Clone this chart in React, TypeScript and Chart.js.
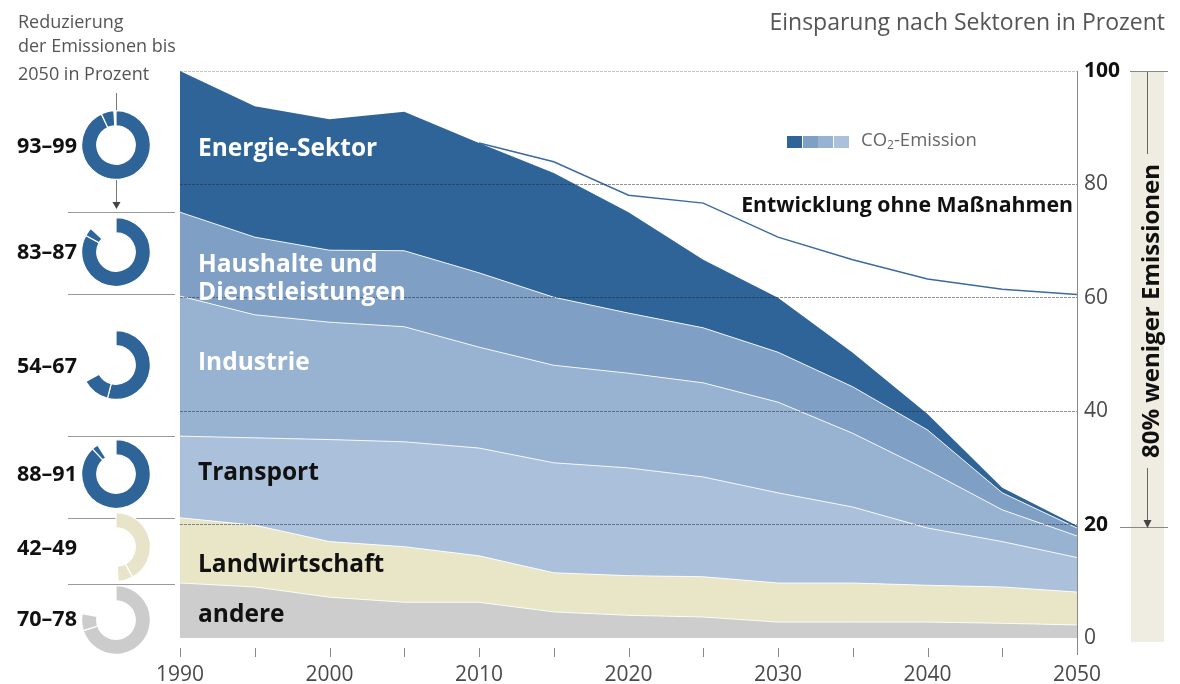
import React, { useEffect, useRef } from 'react';
import { Chart, registerables } from 'chart.js';

Chart.register(...registerables);

// ---------- data ----------
const years = ['1990', '1995', '2000', '2005', '2010', '2015', '2020', '2025', '2030', '2035', '2040', '2045', '2050'];
const andere = [9.7, 9.0, 7.2, 6.3, 6.3, 4.6, 4.0, 3.7, 2.8, 2.8, 2.8, 2.6, 2.3];
const landwirtschaft = [11.5, 10.9, 9.8, 9.8, 8.2, 6.9, 7.0, 7.1, 6.9, 6.9, 6.5, 6.4, 5.8];
const transport = [14.4, 15.4, 18.0, 18.5, 19.0, 19.4, 19.0, 17.6, 15.9, 13.4, 10.1, 8.0, 6.1];
const industrie = [24.7, 21.7, 20.7, 20.3, 17.8, 17.2, 16.7, 16.6, 16.0, 13.0, 10.2, 5.6, 3.8];
const haushalte = [14.8, 13.7, 12.7, 13.4, 13.1, 12.0, 10.6, 9.7, 8.8, 8.2, 7.1, 3.0, 1.4];
const energie = [24.9, 23.1, 23.1, 24.5, 22.9, 21.9, 17.8, 12.0, 9.6, 6.0, 2.8, 0.9, 0.4];
const ohneMassnahmen = [null, null, null, null, 87.3, 84.0, 78.1, 76.7, 70.7, 66.7, 63.3, 61.5, 60.6];
const yTickValues = [0, 20, 40, 60, 80, 100];
const boldTicks = [20, 100];

const sectorLabels = ['Energie-Sektor', 'Haushalte und', 'Dienstleistungen', 'Industrie', 'Transport', 'Landwirtschaft', 'andere'];
const reductionLabels = ['93–99', '83–87', '54–67', '88–91', '42–49', '70–78'];
const reductionMin = [93, 83, 54, 88, 42, 70];
const reductionMax = [99, 87, 67, 91, 49, 78];

// ---------- styles ----------
const FONT = "'Open Sans', 'Noto Sans', sans-serif";
const C_ENERGIE = '#2f6499';
const C_HAUS = '#7f9fc4';
const C_IND = '#98b3d1';
const C_TRANS = '#abc1db';
const C_LAND = '#e9e5c7';
const C_ANDERE = '#cdcdcd';
const SEP = 'rgba(255,255,255,0.85)';

const ringColors = [C_ENERGIE, C_ENERGIE, C_ENERGIE, C_ENERGIE, '#e8e4ca', '#cccccc'];
const ringCenters = [145, 252, 365, 474, 547, 620];
const ringLabelY = [144.5, 251, 364.5, 472.5, 547, 617.5];
const sectorLabelY = [146.5, 263, 290.5, 360.5, 470.5, 563, 613];
const sectorLabelColor = ['#fff', '#fff', '#fff', '#fff', '#111', '#111', '#111'];
const separatorY = [212.5, 294.5, 436.5, 518.5, 584.5];

const tickPlugin = {
  id: 'extraTicks',
  afterDraw(chart: any) {
    const { ctx, chartArea } = chart;
    const xs = chart.scales.x;
    ctx.save();
    ctx.strokeStyle = '#888';
    ctx.lineWidth = 1;
    ctx.beginPath();
    ctx.moveTo(Math.round(chartArea.right) + 0.5, chartArea.top);
    ctx.lineTo(Math.round(chartArea.right) + 0.5, chartArea.bottom + 17);
    for (let i = 0; i < xs.ticks.length - 1; i++) {
      const px = Math.round(xs.getPixelForTick(i)) + 0.5;
      ctx.moveTo(px, chartArea.bottom + 10);
      ctx.lineTo(px, chartArea.bottom + 19);
    }
    ctx.stroke();
    ctx.restore();
  },
};

function MainChart() {
  const ref = useRef<HTMLCanvasElement>(null);
  useEffect(() => {
    const chart = new Chart(ref.current as HTMLCanvasElement, {
      type: 'line',
      data: {
        labels: years,
        datasets: [
          { label: 'andere', data: andere, backgroundColor: C_ANDERE, borderColor: SEP, borderWidth: 1, fill: 'origin', pointRadius: 0, tension: 0 },
          { label: 'Landwirtschaft', data: landwirtschaft, backgroundColor: C_LAND, borderColor: SEP, borderWidth: 1, fill: '-1', pointRadius: 0, tension: 0 },
          { label: 'Transport', data: transport, backgroundColor: C_TRANS, borderColor: SEP, borderWidth: 1, fill: '-1', pointRadius: 0, tension: 0 },
          { label: 'Industrie', data: industrie, backgroundColor: C_IND, borderColor: SEP, borderWidth: 1, fill: '-1', pointRadius: 0, tension: 0 },
          { label: 'Haushalte und Dienstleistungen', data: haushalte, backgroundColor: C_HAUS, borderColor: SEP, borderWidth: 1, fill: '-1', pointRadius: 0, tension: 0 },
          { label: 'Energie-Sektor', data: energie, backgroundColor: C_ENERGIE, borderColor: C_ENERGIE, borderWidth: 0, fill: '-1', pointRadius: 0, tension: 0 },
          { label: 'Entwicklung ohne Maßnahmen', data: ohneMassnahmen, stack: 'ohne', borderColor: '#3c6aa0', borderWidth: 1.5, fill: false, pointRadius: 0, tension: 0 } as any,
        ],
      },
      options: {
        responsive: false,
        animation: false,
        events: [],
        layout: { padding: { left: 180, top: 71, right: 0, bottom: 0 } },
        plugins: { legend: { display: false }, tooltip: { enabled: false } },
        scales: {
          x: {
            type: 'category',
            offset: false,
            grid: { display: false },
            border: { display: false },
            afterFit: (s: any) => { s.height = 46; },
            ticks: {
              autoSkip: false,
              maxRotation: 0,
              padding: 16,
              color: '#4a4a4a',
              font: { family: FONT, size: 21 },
              callback: (_v: any, i: number) => (Number(years[i]) % 10 === 0 ? years[i] : ''),
            },
          },
          y: {
            position: 'right',
            stacked: true,
            min: 0,
            max: 100,
            afterFit: (s: any) => { s.width = 103; },
            afterBuildTicks: (s: any) => { s.ticks = yTickValues.map((v) => ({ value: v })); },
            grid: {
              z: 1,
              drawTicks: false,
              color: (c: any) => {
                if (!c.tick || c.tick.value === 0) return 'rgba(0,0,0,0)';
                if (c.tick.value === 100) return 'rgba(90,90,90,0.35)';
                return 'rgba(35,40,55,0.5)';
              },
              lineWidth: 1,
            },
            border: { display: false, dash: [3, 1] },
            ticks: {
              padding: 7,
              color: (c: any) => (c.tick && boldTicks.includes(c.tick.value) ? '#111' : '#4a4a4a'),
              font: (c: any) => ({
                family: FONT,
                size: 21,
                weight: c.tick && boldTicks.includes(c.tick.value) ? 'bold' : 'normal',
              }),
            },
          },
        },
      } as any,
      plugins: [tickPlugin],
    });
    return () => chart.destroy();
  }, []);
  return <canvas ref={ref} width={1180} height={684} style={{ position: 'absolute', left: 0, top: 0, display: 'block' }} />;
}

function Ring({ idx }: { idx: number }) {
  const ref = useRef<HTMLCanvasElement>(null);
  const size = 70;
  useEffect(() => {
    const min = reductionMin[idx];
    const max = reductionMax[idx];
    const col = ringColors[idx];
    const chart = new Chart(ref.current as HTMLCanvasElement, {
      type: 'doughnut',
      data: {
        labels: ['min', 'range', 'rest'],
        datasets: [
          {
            data: [min, max - min, 100 - max],
            backgroundColor: [col, col, 'rgba(0,0,0,0)'],
            borderColor: ['#fff', '#fff', 'rgba(0,0,0,0)'],
            borderWidth: 1.2,
          },
        ],
      },
      options: {
        responsive: false,
        animation: false,
        events: [],
        cutout: '56%',
        layout: { padding: 0 },
        plugins: { legend: { display: false }, tooltip: { enabled: false } },
      } as any,
    });
    return () => chart.destroy();
  }, [idx]);
  return (
    <canvas
      ref={ref}
      width={size}
      height={size}
      style={{ position: 'absolute', left: 116 - size / 2, top: ringCenters[idx] - size / 2, display: 'block' }}
    />
  );
}

function T(props: { x: number; y: number; size: number; bold?: boolean; color?: string; align?: 'left' | 'right'; children: any }) {
  const { x, y, size, bold, color, align, children } = props;
  const style: any = {
    position: 'absolute',
    top: y,
    transform: 'translateY(-50%)',
    fontFamily: FONT,
    fontSize: size,
    fontWeight: bold ? 700 : 400,
    color: color || '#555',
    lineHeight: 1,
    whiteSpace: 'nowrap',
  };
  if (align === 'right') style.right = 1180 - x;
  else style.left = x;
  return <div style={style}>{children}</div>;
}

export default function App() {
  return (
    <div style={{ position: 'absolute', left: 0, top: 0, width: 1180, height: 684, background: '#fff', overflow: 'hidden' }}>
      <MainChart />
      <svg width={1180} height={684} style={{ position: 'absolute', left: 0, top: 0 }}>
        {separatorY.map((y, i) => (
          <line key={i} x1={68} x2={175} y1={y} y2={y} stroke="#9a9a9a" strokeWidth={1} />
        ))}
        <line x1={116.5} x2={116.5} y1={93} y2={126} stroke="#777" strokeWidth={1} />
        <line x1={116.5} x2={116.5} y1={177} y2={204} stroke="#777" strokeWidth={1} />
        <polygon points="112.5,202 120.5,202 116.5,209" fill="#444" />
        <rect x={1131} y={71} width={33} height={571} fill="#efece1" />
        <line x1={1130} x2={1168} y1={71.5} y2={71.5} stroke="#888" strokeWidth={1} />
        <line x1={1120} x2={1168} y1={527.5} y2={527.5} stroke="#888" strokeWidth={1} />
        <line x1={1147.5} x2={1147.5} y1={72} y2={154} stroke="#666" strokeWidth={1} />
        <line x1={1147.5} x2={1147.5} y1={468} y2={522} stroke="#666" strokeWidth={1} />
        <polygon points="1143.5,520 1151.5,520 1147.5,528" fill="#444" />
      </svg>
      {reductionMin.map((_, i) => (
        <Ring key={i} idx={i} />
      ))}

      <T x={18} y={20.5} size={18}>Reduzierung</T>
      <T x={18} y={45} size={18}>der Emissionen bis</T>
      <T x={18} y={72.5} size={18}>2050 in Prozent</T>
      <T x={1165} y={21} size={23} align="right">Einsparung nach Sektoren in Prozent</T>

      {reductionLabels.map((l, i) => (
        <T key={i} x={17} y={ringLabelY[i]} size={21.5} bold color="#111">{l}</T>
      ))}

      {sectorLabels.map((l, i) => (
        <T key={i} x={198} y={sectorLabelY[i]} size={24.5} bold color={sectorLabelColor[i]}>{l}</T>
      ))}

      <T x={1073} y={203.5} size={21.3} bold color="#111" align="right">Entwicklung ohne Maßnahmen</T>

      <div style={{ position: 'absolute', left: 787, top: 136, height: 12, display: 'flex' }}>
        {[C_ENERGIE, C_HAUS, C_IND, C_TRANS].map((c, i) => (
          <div key={i} style={{ width: 15, height: 12, background: c, marginRight: i < 3 ? 0.5 : 0 }} />
        ))}
      </div>
      <T x={861} y={141} size={18.5} color="#666">
        CO<span style={{ fontSize: '0.65em', verticalAlign: '-0.25em' }}>2</span>-Emission
      </T>

      <div
        style={{
          position: 'absolute',
          left: 1150,
          top: 311,
          transform: 'translate(-50%, -50%) rotate(-90deg)',
          fontFamily: FONT,
          fontSize: 24,
          fontWeight: 700,
          color: '#111',
          whiteSpace: 'nowrap',
          lineHeight: 1,
        }}
      >
        80% weniger Emissionen
      </div>
    </div>
  );
}
